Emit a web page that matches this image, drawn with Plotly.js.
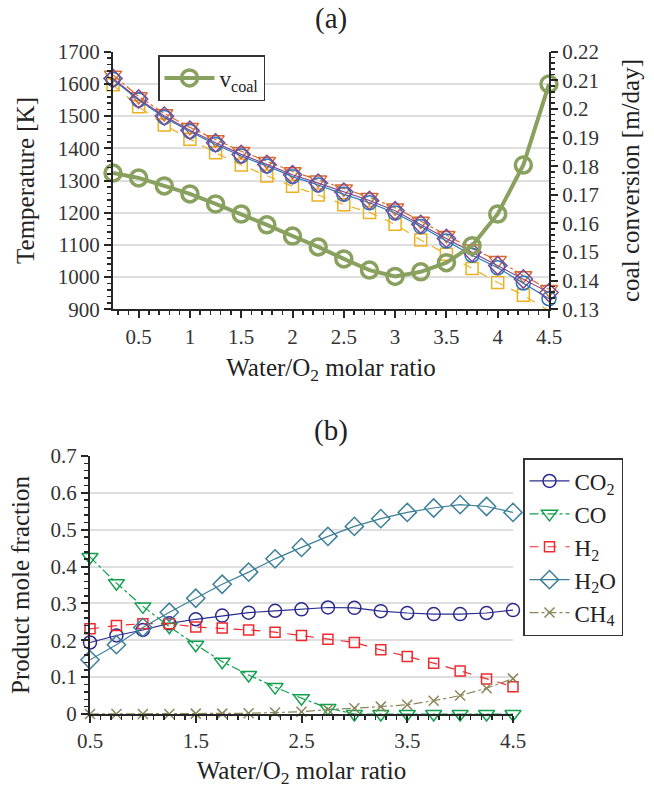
<!DOCTYPE html>
<html>
<head>
<meta charset="utf-8">
<script src="https://cdn.plot.ly/plotly-3.0.1.min.js"></script>
<style>html,body{margin:0;padding:0;background:#fff;}#chart{width:654px;height:788px;}</style>
</head>
<body>
<div id="chart"></div>
<script>
// ---------- data (a) ----------
const ratioA = [0.25,0.5,0.75,1,1.25,1.5,1.75,2,2.25,2.5,2.75,3,3.25,3.5,3.75,4,4.25,4.5];
const tempCircle   = [1614,1550,1496,1452,1412,1376,1345,1312,1286,1257,1231,1199,1157,1112,1068,1029,982,933];
const tempTriangle = [1628,1561,1508,1465,1427,1391,1360,1328,1302,1274,1248,1215,1174,1130,1088,1052,1005,962];
const tempSquare   = [1597,1529,1472,1428,1386,1348,1314,1282,1255,1225,1201,1164,1115,1071,1027,983,944,895];
const tempDiamond  = [1617,1553,1500,1456,1417,1381,1350,1318,1292,1264,1238,1206,1164,1120,1077,1036,994,952];
const vCoal        = [0.1776,0.1759,0.1731,0.1703,0.1668,0.1633,0.1595,0.1556,0.1518,0.1476,0.1437,0.1415,0.1431,0.1463,0.1522,0.1633,0.1804,0.2087];

// ---------- data (b) ----------
const ratioB = [0.5,0.75,1,1.25,1.5,1.75,2,2.25,2.5,2.75,3,3.25,3.5,3.75,4,4.25,4.5];
const fracCO2 = [0.194,0.213,0.228,0.246,0.257,0.267,0.275,0.280,0.284,0.289,0.288,0.279,0.274,0.271,0.271,0.274,0.282];
const fracCO  = [0.426,0.355,0.292,0.237,0.188,0.142,0.106,0.073,0.043,0.016,0,0,0,0,0,0,0];
const fracH2  = [0.231,0.240,0.245,0.245,0.236,0.233,0.228,0.222,0.213,0.203,0.194,0.174,0.156,0.138,0.117,0.095,0.074];
const fracH2O = [0.147,0.188,0.235,0.276,0.314,0.352,0.385,0.421,0.452,0.482,0.509,0.530,0.547,0.559,0.568,0.563,0.547];
const fracCH4 = [0,0,0,0,0.001,0.001,0.002,0.004,0.006,0.012,0.0155,0.020,0.025,0.036,0.050,0.070,0.096];

const FONT = 'Liberation Serif';
const AX = '#262626';
const GRID = '#dedede';

function tr(x, y, name, color, symbol, size, dash, opts) {
  return Object.assign({
    type: 'scatter', mode: 'lines+markers', x: x, y: y, name: name,
    line: {color: color, width: 1.2, dash: dash},
    marker: {symbol: symbol, size: size, color: color, line: {color: color, width: 1.5}},
    cliponaxis: false
  }, opts || {});
}

const data = [
  tr(ratioA, tempSquare, 'T4', '#edb120', 'square-open', 12, 'dash', {xaxis:'x', yaxis:'y', showlegend:false}),
  tr(ratioA, tempTriangle, 'T2', '#d9692c', 'triangle-down-open', 15, 'dashdot', {xaxis:'x', yaxis:'y', showlegend:false}),
  tr(ratioA, tempCircle, 'T1', '#2a76b8', 'circle-open', 14, 'solid', {xaxis:'x', yaxis:'y', showlegend:false}),
  tr(ratioA, tempDiamond, 'T3', '#7e4a92', 'diamond-open', 14, 'solid', {xaxis:'x', yaxis:'y', showlegend:false}),
  {
    type: 'scatter', mode: 'lines+markers', x: ratioA, y: vCoal, name: 'v<sub>coal</sub>',
    xaxis: 'x', yaxis: 'y2', legend: 'legend', cliponaxis: false,
    line: {color: '#89a05f', width: 4},
    marker: {symbol: 'circle-open', size: 16, color: '#89a05f', line: {color: '#89a05f', width: 3.5}}
  },
  tr(ratioB, fracCO2, 'CO<sub>2</sub>', '#2b2b8f', 'circle-open', 13, 'solid', {xaxis:'x2', yaxis:'y3', legend:'legend2'}),
  tr(ratioB, fracCO, 'CO', '#12a04e', 'triangle-down-open', 14, 'dashdot', {xaxis:'x2', yaxis:'y3', legend:'legend2'}),
  tr(ratioB, fracH2, 'H<sub>2</sub>', '#ee2a2f', 'square-open', 10, 'dash', {xaxis:'x2', yaxis:'y3', legend:'legend2'}),
  tr(ratioB, fracH2O, 'H<sub>2</sub>O', '#3d7f99', 'diamond-open', 14, 'solid', {xaxis:'x2', yaxis:'y3', legend:'legend2'}),
  tr(ratioB, fracCH4, 'CH<sub>4</sub>', '#8b865a', 'x-thin-open', 10, 'dashdot', {xaxis:'x2', yaxis:'y3', legend:'legend2'})
];

const tickFont = {family: FONT, size: 21, color: '#333'};
const titleFont = {family: FONT, size: 25, color: '#222'};
const baseAxis = {
  showline: true, linecolor: AX, linewidth: 2,
  ticks: 'outside', ticklen: 7, tickwidth: 2, tickcolor: AX,
  tickfont: tickFont, zeroline: false, fixedrange: true
};

const layout = {
  width: 654, height: 788,
  margin: {l: 0, r: 0, t: 0, b: 0},
  paper_bgcolor: '#fff', plot_bgcolor: '#fff',
  font: {family: FONT, color: '#222'},
  xaxis: Object.assign({}, baseAxis, {
    domain: [113/654, 549/654], anchor: 'y', range: [0.25, 4.5],
    tick0: 0.5, dtick: 0.5, showgrid: false,
    minor: {ticks: 'outside', ticklen: 4, tickwidth: 1.5, tickcolor: AX, dtick: 0.1, tick0: 0, showgrid: false},
    title: {text: 'Water/O<sub>2</sub> molar ratio', font: titleFont, standoff: 11}
  }),
  yaxis: Object.assign({}, baseAxis, {
    domain: [1-309.3/788, 1-51.7/788], anchor: 'x', range: [900, 1700],
    dtick: 100, showgrid: true, gridcolor: GRID, gridwidth: 2,
    minor: {ticks: 'outside', ticklen: 4, tickwidth: 1.5, tickcolor: AX, dtick: 20, showgrid: false},
    title: {text: 'Temperature [K]', font: titleFont, standoff: 16}
  }),
  yaxis2: Object.assign({}, baseAxis, {
    overlaying: 'y', side: 'right', anchor: 'x', range: [0.13, 0.22],
    dtick: 0.01, showgrid: false, tickformat: '.2~f',
    minor: {ticks: 'outside', ticklen: 4, tickwidth: 1.5, tickcolor: AX, dtick: 0.002, showgrid: false},
    title: {text: 'coal conversion [m/day]', font: titleFont, standoff: 23}
  }),
  xaxis2: Object.assign({}, baseAxis, {
    domain: [90/654, 513/654], anchor: 'y3', range: [0.5, 4.5],
    tick0: 0.5, dtick: 1, showgrid: false,
    minor: {ticks: 'outside', ticklen: 4, tickwidth: 1.5, tickcolor: AX, dtick: 0.1, tick0: 0, showgrid: false},
    title: {text: 'Water/O<sub>2</sub> molar ratio', font: titleFont, standoff: 9}
  }),
  yaxis3: Object.assign({}, baseAxis, {
    domain: [1-714/788, 1-456/788], anchor: 'x2', range: [0, 0.7],
    dtick: 0.1, showgrid: true, gridcolor: GRID, gridwidth: 2, tickformat: '~g',
    minor: {ticks: 'outside', ticklen: 4, tickwidth: 1.5, tickcolor: AX, dtick: 0.02, showgrid: false},
    title: {text: 'Product mole fraction', font: titleFont, standoff: 14}
  }),
  legend: {
    x: 158/654, y: 1-55/788, xanchor: 'left', yanchor: 'top',
    bgcolor: '#fff', bordercolor: '#333', borderwidth: 1.5,
    font: {family: FONT, size: 23, color: '#222'}, itemwidth: 50
  },
  legend2: {
    x: 523/654, y: 1-458/788, xanchor: 'left', yanchor: 'top',
    bgcolor: '#fff', bordercolor: '#333', borderwidth: 1.5,
    font: {family: FONT, size: 23, color: '#222'}, itemwidth: 40, tracegroupgap: 0
  },
  showlegend: true,
  annotations: [
    {text: '(a)', x: 331/654, y: 1-18/788, xref: 'paper', yref: 'paper', showarrow: false, xanchor: 'center', yanchor: 'middle', font: {family: FONT, size: 29, color: '#222'}},
    {text: '(b)', x: 331/654, y: 1-430/788, xref: 'paper', yref: 'paper', showarrow: false, xanchor: 'center', yanchor: 'middle', font: {family: FONT, size: 29, color: '#222'}}
  ]
};

Plotly.newPlot('chart', data, layout, {displayModeBar: false, staticPlot: true});
</script>
</body>
</html>
